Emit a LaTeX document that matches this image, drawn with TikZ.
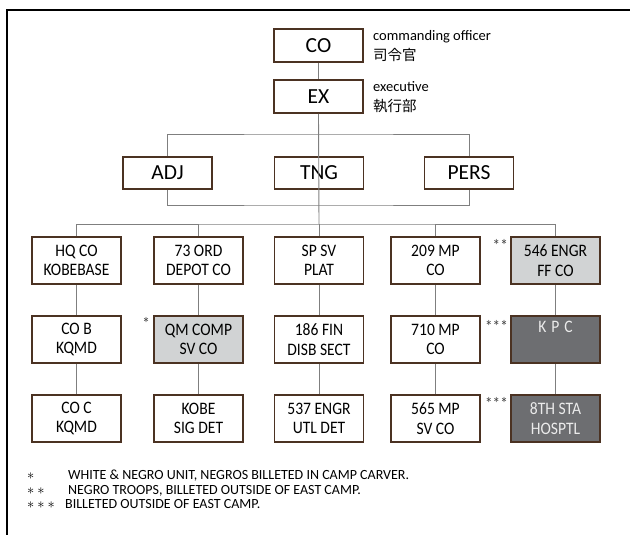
\documentclass[tikz,border=0pt]{standalone}
\usepackage{fontspec}
\setmainfont{Carlito}
\newfontfamily\unitfont{Carlito}[FakeStretch=0.89]
\newfontfamily\cjkfont{Noto Sans CJK JP}
\usetikzlibrary{positioning}
\definecolor{boxbrown}{HTML}{4B3222}
\definecolor{linegray}{HTML}{7F7F7F}
\definecolor{lightfill}{HTML}{D1D3D4}
\definecolor{darkfill}{HTML}{6D6E71}
\newcommand{\lgmark}[2]{\makebox[#1][l]{\fontsize{15}{15}\selectfont#2}}

\begin{document}
\begin{tikzpicture}[
  x=1pt,y=-1pt,
  headbox/.style={draw=boxbrown,line width=1.8pt,minimum width=89pt,
                  minimum height=33pt,inner sep=0pt,font=\fontsize{21.5}{24}\selectfont},
  unit/.style={draw=boxbrown,line width=1.8pt,minimum width=89pt,minimum height=47pt,
               inner sep=0pt,align=center,font=\unitfont\fontsize{17.5}{19.5}\selectfont},
  lightunit/.style={unit,fill=lightfill},
  darkunit/.style={unit,fill=darkfill,text=white!92!black},
  link/.style={draw=linegray,line width=0.9pt},
  note/.style={font=\fontsize{14.5}{20}\selectfont,align=left,anchor=north west,inner sep=0pt},
  star/.style={font=\unitfont\fontsize{17}{17}\selectfont,text=black!75,inner sep=0pt,anchor=north east},
  legend/.style={font=\fontsize{14}{15}\selectfont,inner sep=0pt,anchor=base west}
]
\useasboundingbox (0,0) rectangle (630,535);
\draw[line width=2.2pt] (7,535) -- (7,10) -- (630,10);

% command
\node[headbox] (co) at (318.5,45.5) {CO};
\node[headbox] (ex) at (318.5,96.5) {EX};
\node[note] (conote) at (373,30) {commanding officer\\{\cjkfont 司令官}};
\node[note] (exnote) at (373,81) {executive\\{\cjkfont 執行部}};

% staff
\node[headbox,minimum height=32pt] (adj) at (167.5,173) {ADJ};
\node[headbox,minimum height=32pt] (tng) at (319,173) {TNG};
\node[headbox,minimum height=32pt] (pers) at (469,173) {PERS};
\coordinate (stafftop) at (319,134);
\coordinate (staffbot) at (319,205);
\coordinate (rowbus) at (319,224);

% units
\node[unit] (hq) at (76.5,260.5) {HQ CO\\KOBEBASE};
\node[unit] (ord) at (198.5,260.5) {73 ORD\\DEPOT CO};
\node[unit] (spsv) at (319,260.5) {SP SV\\PLAT};
\node[unit] (mpa) at (435.5,260.5) {209 MP\\CO};
\node[lightunit] (engr) at (555.5,260.5) {546 ENGR\\FF CO};

\node[unit] (cob) at (76.5,339.5) {CO B\\KQMD};
\node[lightunit] (qm) at (198.5,339.5) {QM COMP\\SV CO};
\node[unit] (fin) at (319,339.5) {186 FIN\\DISB SECT};
\node[unit] (mpb) at (435.5,339.5) {710 MP\\CO};
\node[darkunit] (kpc) at (555.5,339.5) {K\hspace{5pt}P\hspace{5pt}C\\\strut};

\node[unit] (coc) at (76.5,418.5) {CO C\\KQMD};
\node[unit] (sig) at (198.5,418.5) {KOBE\\SIG DET};
\node[unit] (utl) at (319,418.5) {537 ENGR\\UTL DET};
\node[unit] (mpc) at (435.5,418.5) {565 MP\\SV CO};
\node[darkunit] (hosp) at (555.5,418.5) {8TH STA\\HOSPTL};

\node[star] (qmstar) at (150,317) {*};
\node[star] (engrstar) at (508,239) {**};
\node[star] (kpcstar) at (508,320) {***};
\node[star] (hospstar) at (508,397) {***};

% links
\draw[link] (co) -- (ex);
\draw[link] (ex.south) -- (rowbus);
\draw[link] (adj.north) |- (stafftop) -| (pers.north);
\draw[link] (adj.south) |- (staffbot) -| (pers.south);
\draw[link] (hq.north) |- (rowbus) -| (engr.north);
\draw[link] (ord.north) -- (ord.north |- rowbus);
\draw[link] (mpa.north) -- (mpa.north |- rowbus);
\draw[link] (spsv.north) -- (rowbus);
\foreach \a/\b/\c in {hq/cob/coc,ord/qm/sig,spsv/fin/utl,mpa/mpb/mpc,engr/kpc/hosp}{
  \draw[link] (\a) -- (\b);
  \draw[link] (\b) -- (\c);
}

% legend
\node[legend] (lgone) at (27,479.5)
  {\lgmark{41pt}{$\ast$}WHITE \& NEGRO UNIT, NEGROS BILLETED IN CAMP CARVER.};
\node[legend] (lgtwo) at (27,494)
  {\lgmark{41pt}{$\ast$\hspace{3pt}$\ast$}NEGRO TROOPS, BILLETED OUTSIDE OF EAST CAMP.};
\node[legend] (lgthree) at (27,508.5)
  {\lgmark{38pt}{$\ast$\hspace{3pt}$\ast$\hspace{3pt}$\ast$}BILLETED OUTSIDE OF EAST CAMP.};
\end{tikzpicture}
\end{document}
